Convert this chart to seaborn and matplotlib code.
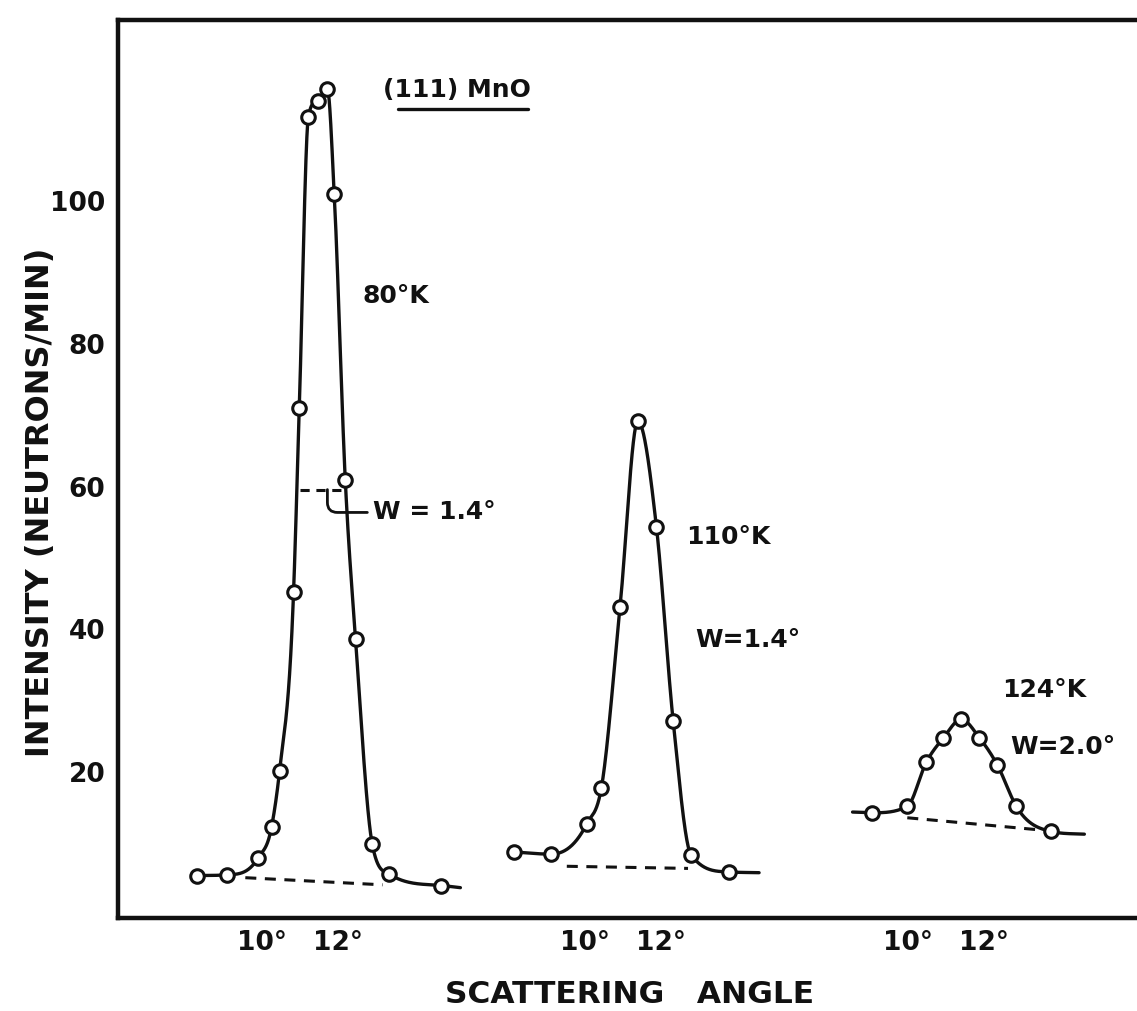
import numpy as np
import pandas as pd
import matplotlib
matplotlib.use("Agg")
import matplotlib.pyplot as plt
import seaborn as sns

# ---------------- data ----------------
# panel offsets on the shared x axis (degrees)
panel_offsets = [0.0, 8.5, 17.0]
temperatures = ["80°K", "110°K", "124°K"]

angle_80 = [8.29, 9.08, 9.89, 10.24, 10.45, 10.82, 10.97, 11.21, 11.45, 11.71,
            11.89, 12.18, 12.45, 12.89, 13.34, 14.71]
counts_80 = [5.5, 5.6, 8.0, 12.3, 20.1, 45.3, 71.0, 111.9, 114.1, 115.7,
             101.0, 61.0, 38.7, 9.9, 5.7, 4.1]

angle_110 = [8.13, 9.09, 10.03, 10.42, 10.91, 11.38, 11.87, 12.31, 12.78, 13.77]
counts_110 = [8.8, 8.5, 12.7, 17.8, 43.1, 69.2, 54.3, 27.1, 8.4, 6.0]

angle_124 = [9.03, 9.97, 10.47, 10.92, 11.39, 11.87, 12.34, 12.84, 13.74]
counts_124 = [14.3, 15.2, 21.4, 24.8, 27.4, 24.8, 21.0, 15.2, 11.7]

# where the hand-drawn curves start/end beyond the measured points
curve_start = [None, None, (8.53, 14.4)]
curve_end = [(15.21, 3.8), (14.57, 5.9), (14.63, 11.3)]

# dashed background lines (angle, counts)
bg_angle = [[9.55, 13.16], [9.51, 12.70], [9.97, 13.45]]
bg_counts = [[5.2, 4.2], [6.8, 6.5], [13.6, 11.9]]

# half-width marker on the 80 K peak
w_bar_angle = [11.0, 12.18]
w_bar_count = 59.6

x_tick_angles = [10, 12]
x_tick_labels = ["10°", "12°"]
y_ticks = [20, 40, 60, 80, 100]

angles = [angle_80, angle_110, angle_124]
counts = [counts_80, counts_110, counts_124]


def smooth_curve(x, y, n=60):
    """Monotone-limited cubic Hermite curve through the points."""
    x = np.asarray(x, float)
    y = np.asarray(y, float)
    h = np.diff(x)
    d = np.diff(y) / h
    m = np.empty_like(y)
    m[0], m[-1] = d[0], d[-1]
    for k in range(1, len(x) - 1):
        if d[k - 1] * d[k] <= 0:
            m[k] = 0.0
        else:
            m[k] = (h[k] * d[k - 1] + h[k - 1] * d[k]) / (h[k - 1] + h[k])
    for k in range(len(d)):
        if d[k] == 0:
            m[k] = m[k + 1] = 0.0
            continue
        a, b = m[k] / d[k], m[k + 1] / d[k]
        s = a * a + b * b
        if s > 9:
            tau = 3.0 / np.sqrt(s)
            m[k], m[k + 1] = tau * a * d[k], tau * b * d[k]
    xs_all, ys_all = [], []
    for k in range(len(d)):
        t = np.linspace(0, 1, n)
        h00 = 2 * t**3 - 3 * t**2 + 1
        h10 = t**3 - 2 * t**2 + t
        h01 = -2 * t**3 + 3 * t**2
        h11 = t**3 - t**2
        xs_all.append(x[k] + t * h[k])
        ys_all.append(h00 * y[k] + h10 * h[k] * m[k] + h01 * y[k + 1] + h11 * h[k] * m[k + 1])
    return np.concatenate(xs_all), np.concatenate(ys_all)


# ---------------- style ----------------
sns.set_theme(style="white")
plt.rcParams["font.family"] = ["DejaVu Sans"]
plt.rcParams["font.weight"] = "bold"
INK = "#111111"
DASH = (0, (3.6, 2.8))

fig = plt.figure(figsize=(11.37, 10.11), dpi=100)
ax = fig.add_axes([0.1038, 0.092, 0.9, 0.888])

for i in range(3):
    off = panel_offsets[i]
    xa = list(angles[i])
    ya = list(counts[i])
    if curve_start[i] is not None:
        xa = [curve_start[i][0]] + xa
        ya = [curve_start[i][1]] + ya
    if curve_end[i] is not None:
        xa = xa + [curve_end[i][0]]
        ya = ya + [curve_end[i][1]]
    xs, ys = smooth_curve(xa, ya)
    sns.lineplot(x=xs + off, y=ys, sort=False, estimator=None, color=INK,
                 linewidth=2.4, ax=ax, zorder=2)
    sns.lineplot(x=np.array(bg_angle[i]) + off, y=bg_counts[i], sort=False,
                 estimator=None, color=INK, linewidth=2.2, ax=ax, zorder=1)
    ax.lines[-1].set_linestyle(DASH)
    df = pd.DataFrame({"angle": np.array(angles[i]) + off, "counts": counts[i]})
    sns.scatterplot(data=df, x="angle", y="counts", s=95, color="white",
                    edgecolor=INK, linewidth=2.2, ax=ax, zorder=3)

# half width bar (80 K)
ax.plot(w_bar_angle, [w_bar_count, w_bar_count], color=INK, lw=2.2,
        linestyle=(0, (3.0, 2.2)), zorder=1)

# texts
tfs = 18
ax.text(13.18, 115.6, "(111) MnO", fontsize=tfs, fontweight="bold", ha="left", va="center", color=INK)
ax.plot([13.58, 17.0], [113.0, 113.0], color=INK, lw=2.4, solid_capstyle="round")
ax.text(12.63, 86.8, "80°K", fontsize=tfs, fontweight="bold", ha="left", va="center", color=INK)
ax.annotate("W = 1.4°", xy=(11.71, 59.6), xytext=(12.92, 56.4), fontsize=tfs,
            fontweight="bold", ha="left", va="center", color=INK,
            arrowprops=dict(arrowstyle="-", color=INK, lw=2.0,
                            connectionstyle="angle,angleA=0,angleB=90,rad=10",
                            shrinkA=2, shrinkB=0))
ax.text(21.16, 52.9, "110°K", fontsize=tfs, fontweight="bold", ha="left", va="center", color=INK)
ax.text(21.39, 38.5, "W=1.4°", fontsize=tfs, fontweight="bold", ha="left", va="center", color=INK)
ax.text(29.47, 31.5, "124°K", fontsize=tfs, fontweight="bold", ha="left", va="center", color=INK)
ax.text(29.68, 23.5, "W=2.0°", fontsize=tfs, fontweight="bold", ha="left", va="center", color=INK)

# axes
ax.set_xlim(6.2, 6.2 + 0.9 * 1137 / 38.0)
ax.set_ylim(-0.45, 125.4)
xt = [a + off for off in panel_offsets for a in x_tick_angles]
ax.set_xticks(xt)
ax.set_xticklabels(x_tick_labels * 3)
ax.set_yticks(y_ticks)
ax.set_yticklabels([str(v) for v in y_ticks])
ax.tick_params(axis="both", direction="in", length=9, width=2.6, colors=INK,
               labelsize=19, pad=9)
for lab in ax.get_xticklabels() + ax.get_yticklabels():
    lab.set_fontweight("bold")
for side in ["left", "bottom", "top", "right"]:
    ax.spines[side].set_linewidth(3.2)
    ax.spines[side].set_color(INK)
ax.set_xlabel("")
ax.set_ylabel("")

fig.text(0.036, 0.503, "INTENSITY (NEUTRONS/MIN)", rotation=90, fontsize=23,
         fontweight="bold", ha="center", va="center", color=INK)
fig.text(0.554, 0.016, "SCATTERING   ANGLE", fontsize=22.5, fontweight="bold",
         ha="center", va="center", color=INK)

fig.savefig("out.png", dpi=100, facecolor="white")
